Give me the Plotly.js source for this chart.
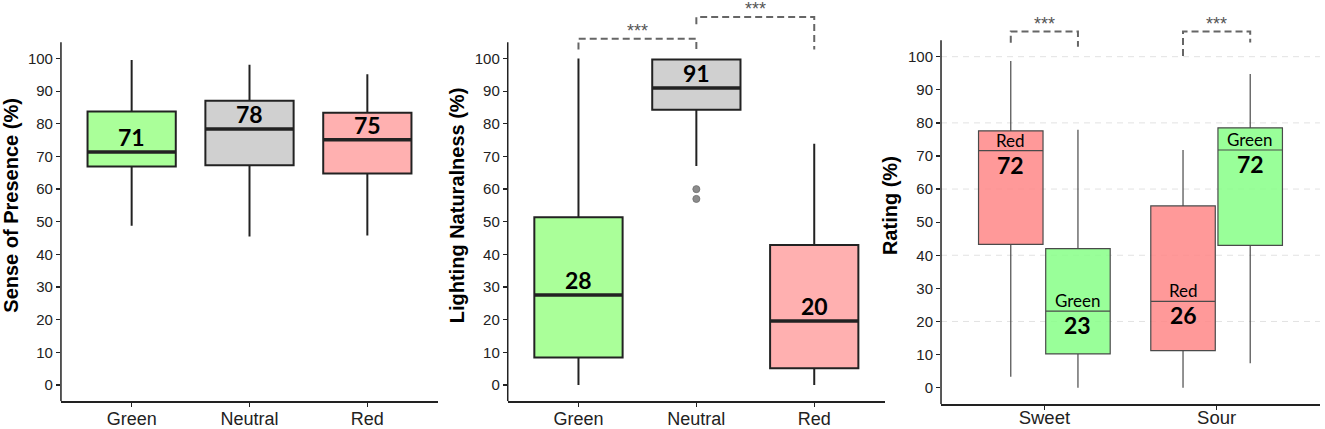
<!DOCTYPE html>
<html>
<head>
<meta charset="utf-8">
<script src="https://cdn.plot.ly/plotly-3.0.1.min.js"></script>
<style>
  html, body { margin: 0; padding: 0; background: #fff; }
  #chart { width: 1325px; height: 429px; }
</style>
</head>
<body>
<div id="chart"></div>
<script>
// panel 1 - sense of presence
const lightCats = ['Green', 'Neutral', 'Red'];
const presLower = [48.8, 45.5, 45.8];
const presQ1 = [66.9, 67.3, 64.8];
const presMedian = [71.4, 78.4, 75.1];
const presQ3 = [83.8, 87.1, 83.4];
const presUpper = [99.6, 98.1, 95.2];

// panel 2 - lighting naturalness
const natLower = [0, 67.1, 0];
const natQ1 = [8.4, 84.3, 5.1];
const natMedian = [27.6, 91.0, 19.6];
const natQ3 = [51.4, 99.7, 42.9];
const natUpper = [100, 100, 73.9];
const natOutlierCat = ['Neutral', 'Neutral'];
const natOutlierVal = [60, 57];

// panel 3 - taste rating
const tastes = ['Sweet', 'Sour'];
const redLower = [3.3, 0];
const redQ1 = [43.3, 11.2];
const redMedian = [71.6, 26.1];
const redQ3 = [77.6, 54.9];
const redUpper = [98.7, 71.8];
const greenLower = [0, 7.4];
const greenQ1 = [10.2, 43.0];
const greenMedian = [23.1, 71.8];
const greenQ3 = [42.0, 78.5];
const greenUpper = [77.9, 94.8];

const yTicks = [0, 10, 20, 30, 40, 50, 60, 70, 80, 90, 100];
const gridVals = [20, 40, 60, 80, 100];

const fillsLight = ['#aaff99', '#d0d0d0', '#ffb0b0'];
const axisCol = '#222';
const dodge = 0.195;

let traces = [];
let shapes = [];
let annotations = [];

function lightPanel(xa, ya, lower, q1, med, q3, upper) {
  lightCats.forEach((c, i) => {
    traces.push({
      type: 'box', xaxis: xa, yaxis: ya, x: [c],
      lowerfence: [lower[i]], q1: [q1[i]], median: [med[i]], q3: [q3[i]], upperfence: [upper[i]],
      fillcolor: fillsLight[i], line: {color: axisCol, width: 2},
      whiskerwidth: 0, offsetgroup: xa, showlegend: false, hoverinfo: 'skip'
    });
    // thicker median line
    shapes.push({type: 'line', xref: xa, yref: ya, x0: i - 0.375, x1: i + 0.375, y0: med[i], y1: med[i],
      line: {color: axisCol, width: 3.5}});
    annotations.push({xref: xa, yref: ya, x: c, y: med[i], text: String(Math.round(med[i])),
      showarrow: false, yanchor: 'bottom', yshift: -1,
      font: {family: 'Lato', size: 23, color: '#000', weight: 'bold'}});
  });
}
lightPanel('x', 'y', presLower, presQ1, presMedian, presQ3, presUpper);
lightPanel('x2', 'y2', natLower, natQ1, natMedian, natQ3, natUpper);

traces.push({
  type: 'scatter', mode: 'markers', xaxis: 'x2', yaxis: 'y2',
  x: natOutlierCat, y: natOutlierVal,
  marker: {color: '#8c8c8c', size: 7, line: {color: '#777', width: 1}},
  showlegend: false, hoverinfo: 'skip'
});

// taste panel
const tasteSeries = [
  {name: 'Red', fill: 'rgba(255,135,135,0.85)', lower: redLower, q1: redQ1, med: redMedian, q3: redQ3, upper: redUpper, off: -dodge},
  {name: 'Green', fill: 'rgba(135,255,135,0.85)', lower: greenLower, q1: greenQ1, med: greenMedian, q3: greenQ3, upper: greenUpper, off: dodge}
];
tasteSeries.forEach(s => {
  traces.push({
    type: 'box', xaxis: 'x3', yaxis: 'y3', x: tastes, name: s.name,
    lowerfence: s.lower, q1: s.q1, median: s.med, q3: s.q3, upperfence: s.upper,
    fillcolor: s.fill, line: {color: '#4a4a4a', width: 1.2},
    whiskerwidth: 0, offsetgroup: s.name, showlegend: false, hoverinfo: 'skip'
  });
  tastes.forEach((t, i) => {
    annotations.push({xref: 'x3', yref: 'y3', x: i + s.off, y: s.med[i], text: s.name,
      showarrow: false, yanchor: 'bottom', yshift: -2,
      font: {family: 'Lato', size: 17, color: '#000'}});
    annotations.push({xref: 'x3', yref: 'y3', x: i + s.off, y: s.med[i], text: String(Math.round(s.med[i])),
      showarrow: false, yanchor: 'top', yshift: 2,
      font: {family: 'Lato', size: 23, color: '#000', weight: 'bold'}});
  });
});

gridVals.forEach(v => {
  shapes.push({type: 'line', xref: 'x3 domain', yref: 'y3', x0: 0, x1: 1, y0: v, y1: v, layer: 'below',
    line: {color: '#e2e2e2', width: 1, dash: '6px,5px'}});
});

// y axis lines, stop at the top of the data area
[['x', 'y'], ['x2', 'y2'], ['x3', 'y3']].forEach(([xa, ya]) => {
  shapes.push({type: 'line', xref: xa + ' domain', yref: ya, x0: 0, x1: 0, y0: -5, y1: 105,
    line: {color: axisCol, width: 1.5}});
});

// significance brackets
function bracket(xa, ya, a, b, top, legA, legB) {
  const ln = {color: '#666', width: 2, dash: '7px,4px'};
  shapes.push({type: 'path', xref: xa, yref: ya,
    path: `M ${a},${legA} L ${a},${top} L ${b},${top} L ${b},${legB}`, line: ln});
  annotations.push({xref: xa, yref: ya, x: (a + b) / 2, y: top, text: '***', showarrow: false,
    yanchor: 'bottom', yshift: -4, font: {family: 'Liberation Sans', size: 18, color: '#555'}});
}
bracket('x2', 'y2', 0, 1, 106.1, 102.8, 102.8);
bracket('x2', 'y2', 1, 2, 112.7, 110.5, 102.8);
bracket('x3', 'y3', 0 - dodge, 0 + dodge, 107.6, 104.2, 103.0);
bracket('x3', 'y3', 1 - dodge, 1 + dodge, 107.6, 100.2, 104.3);

function yax(domain, title) {
  return {
    domain: domain, range: [-5, 115], tickvals: yTicks, ticktext: yTicks.map(String),
    showgrid: false, zeroline: false, showline: false,
    ticks: 'outside', ticklen: 4, tickwidth: 1.3, tickcolor: axisCol,
    tickfont: {family: 'Liberation Sans', size: 15, color: '#222'},
    title: {text: title, standoff: 4, font: {family: 'Liberation Sans', size: 20, color: '#000', weight: 'bold'}}
  };
}
function xax(domain, n, anchor, fs, lift) {
  return {
    domain: domain, anchor: anchor, type: 'category', range: [-0.6, n - 0.4],
    showgrid: false, zeroline: false, showline: true, linecolor: axisCol, linewidth: 1.5,
    ticks: 'outside', ticklen: 4, tickwidth: 1.3, tickcolor: axisCol, ticklabelstandoff: lift,
    tickfont: {family: 'Liberation Sans', size: fs, color: '#222'}
  };
}

const layout = {
  width: 1325, height: 429,
  margin: {l: 0, r: 0, t: 0, b: 0},
  paper_bgcolor: '#fff', plot_bgcolor: '#fff',
  boxmode: 'group', boxgap: 0.22, boxgroupgap: 0.04,
  xaxis: xax([0.0460, 0.3306], 3, 'y', 18, -3),
  yaxis: Object.assign(yax([0.0646, 0.9776], 'Sense of Presence (%)'), {anchor: 'x'}),
  xaxis2: xax([0.3832, 0.6679], 3, 'y2', 18, -3),
  yaxis2: Object.assign(yax([0.0646, 0.9776], 'Lighting Naturalness (%)'), {anchor: 'x2'}),
  xaxis3: xax([0.7102, 0.9962], 2, 'y3', 18.5, -8),
  yaxis3: Object.assign(yax([0.0578, 0.9836], 'Rating (%)'), {anchor: 'x3'}),
  shapes: shapes,
  annotations: annotations
};

Plotly.newPlot('chart', traces, layout, {staticPlot: true});
</script>
</body>
</html>
